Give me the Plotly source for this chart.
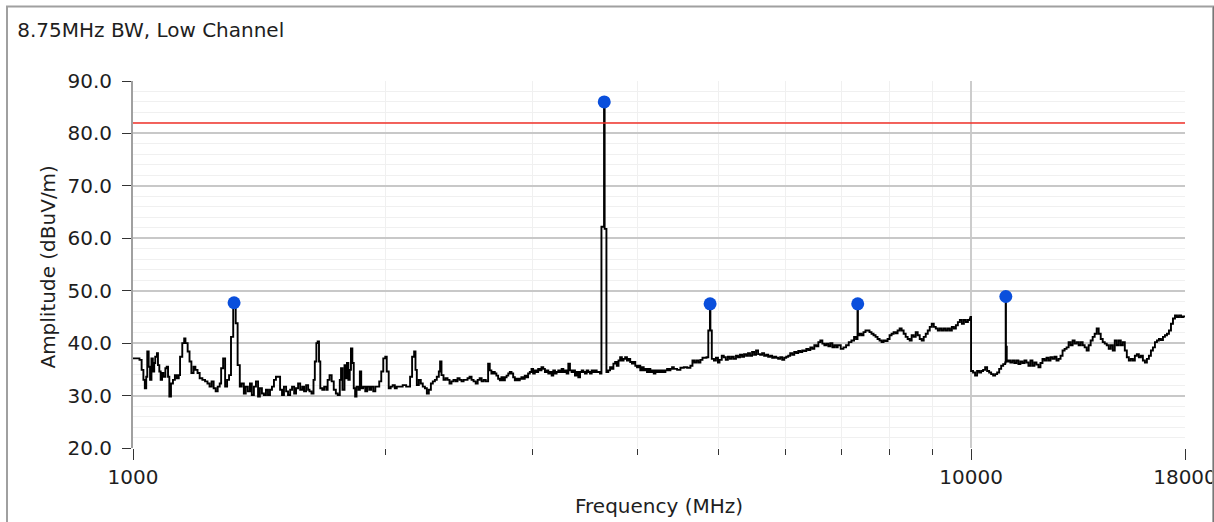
import math
import plotly.graph_objects as go

TITLE = "8.75MHz BW, Low Channel"
X_TITLE = "Frequency (MHz)"
Y_TITLE = "Amplitude (dBuV/m)"

FREQ_MHZ = [
    1000, 1015, 1018, 1024, 1029, 1033, 1037, 1040, 1044, 1048, 1052, 1056, 1060, 1063, 1068, 1071, 1075, 1079,
    1083, 1087, 1093, 1097, 1101, 1105, 1110, 1116, 1122, 1128, 1134, 1138, 1145, 1151, 1155, 1162, 1168, 1174,
    1181, 1187, 1194, 1201, 1210, 1219, 1227, 1234, 1241, 1248, 1255, 1262, 1269, 1274, 1281, 1288, 1295, 1302,
    1309, 1317, 1326, 1333, 1341,
    1348, 1356, 1363, 1371, 1379, 1386, 1394, 1402, 1410, 1417, 1425, 1433, 1441, 1449, 1457, 1465, 1473, 1481,
    1490, 1498, 1506, 1514, 1523, 1531, 1540, 1548, 1557, 1565, 1574, 1583, 1592, 1600, 1609, 1618,
    1624, 1633, 1642, 1648, 1655, 1661, 1667, 1673, 1682, 1691, 1701, 1707, 1716, 1726, 1736, 1746, 1755, 1765,
    1771, 1778, 1788, 1794, 1800, 1807, 1814, 1820, 1827, 1834, 1841, 1848, 1858, 1865, 1872, 1882, 1893, 1903,
    1914, 1924, 1935, 1946, 1956, 1967, 1978, 1989, 2000, 2008, 2019, 2030, 2041, 2053, 2064, 2079, 2098, 2118,
    2130, 2141, 2153, 2165, 2173, 2181, 2193, 2205, 2217, 2230, 2242, 2254, 2267, 2279, 2292, 2304, 2317, 2325,
    2334, 2347, 2360, 2373, 2386, 2399, 2412, 2426, 2439, 2453, 2466, 2480, 2494, 2507, 2521, 2535, 2549, 2564,
    2578, 2592, 2606, 2621, 2636,
    2653, 2665, 2677, 2690, 2702, 2714, 2727, 2740, 2752, 2765, 2778, 2791, 2804, 2816, 2829, 2842, 2855, 2868,
    2881, 2894, 2907, 2921, 2934, 2948, 2961, 2975, 2989, 3002, 3016, 3030, 3044, 3058, 3072, 3087, 3101, 3115,
    3130, 3144, 3159, 3173, 3188, 3202, 3217, 3232, 3247, 3262, 3276, 3292, 3307, 3322, 3337, 3353, 3368, 3384,
    3399, 3415, 3431, 3446, 3462, 3478, 3494, 3510, 3526, 3542, 3559, 3575, 3591, 3608,
    3622, 3648, 3654, 3672,
    3691, 3709, 3726, 3743, 3761, 3778, 3796, 3813, 3831, 3849, 3866, 3885, 3903, 3920, 3939, 3957, 3975, 3994,
    4012, 4030, 4049, 4068, 4086, 4105, 4125, 4143, 4163, 4182, 4201, 4221, 4240, 4259, 4279, 4299, 4318, 4338,
    4358, 4378, 4398,
    4419, 4459, 4500, 4542, 4583, 4625, 4651, 4676, 4702, 4728, 4754, 4781, 4807, 4834,
    4858, 4880, 4886, 4905,
    4934, 4961, 4989, 5010, 5041, 5069, 5097, 5126, 5154, 5182, 5211, 5242, 5271, 5300, 5330, 5359, 5389, 5418,
    5448, 5479, 5509, 5539, 5570, 5601, 5632, 5663, 5695, 5726, 5758, 5790, 5822, 5854, 5886, 5919, 5952, 5985,
    6018, 6051, 6084, 6118, 6152, 6186, 6220, 6254, 6289, 6324, 6359, 6394, 6430, 6465, 6501, 6537, 6573, 6609,
    6646, 6683, 6720, 6757, 6794, 6832, 6869, 6907, 6932,
    6990, 7042, 7093, 7146, 7199, 7251, 7291, 7320, 7328,
    7360, 7400, 7441, 7482, 7524, 7565, 7607, 7649, 7692, 7734, 7777, 7820, 7863, 7906, 7950, 7994, 8038, 8083,
    8128, 8172, 8218, 8263, 8309, 8355, 8401, 8448, 8494, 8541, 8589, 8636, 8684, 8732, 8780, 8829, 8878, 8927,
    8976, 9026, 9076, 9127, 9177, 9228, 9279, 9330, 9382, 9434, 9486, 9538, 9591, 9644, 9697, 9751, 9805, 9859,
    9914, 9968, 9985,
    10000, 10055, 10111, 10167, 10223, 10280, 10336, 10394, 10451, 10509, 10567, 10625, 10684, 10743, 10803,
    10862, 10923, 10983, 10998, 11006, 11030, 11080,
    11140, 11202, 11264, 11326, 11389, 11452, 11515, 11579, 11643, 11707, 11772, 11837, 11902, 11968, 12034,
    12101, 12168, 12235, 12303, 12371, 12439, 12508, 12577, 12646, 12717, 12787, 12858, 12930, 13001, 13073,
    13145, 13218, 13291, 13365, 13439, 13513, 13588, 13663, 13738, 13814, 13890, 13967, 14044, 14122, 14200,
    14279, 14358, 14437, 14517, 14597, 14678, 14760, 14841, 14923, 15006, 15089, 15172, 15256, 15341, 15426,
    15511, 15597, 15683, 15770, 15857, 15945, 16033, 16122, 16211, 16301, 16391, 16481, 16573, 16664, 16756,
    16849, 16942, 17035, 17130, 17224, 17320, 17415, 17512, 17608, 17706, 17804, 17902, 18000,
]

AMPLITUDE_DBUV = [
    37.1, 37.1, 36.8, 34.9, 33.0, 31.4, 33.6, 38.4, 35.5, 33.0, 37.1, 34.6, 36.2, 37.4, 38.1, 35.8, 34.6, 33.0,
    34.3, 33.6, 35.2, 35.5, 33.6, 29.8, 32.3, 33.0, 33.9, 33.3, 33.9, 37.4, 40.0, 40.9, 40.0, 38.4, 36.5, 34.3,
    35.5, 34.9, 34.3, 33.3, 33.0, 32.7, 32.3, 31.7, 32.7, 31.4, 30.8, 31.7, 32.3, 35.2, 37.1, 31.7, 33.0, 33.9,
    41.2, 47.7, 43.8, 35.8, 31.7,
    32.3, 30.4, 31.7, 30.8, 32.3, 30.1, 31.7, 32.7, 29.8, 31.4, 30.4, 30.1, 31.1, 30.1, 31.1, 31.7, 33.0, 33.6,
    33.6, 31.1, 30.1, 31.7, 30.8, 30.1, 31.1, 31.7, 30.4, 31.4, 32.3, 31.1, 31.7, 30.8, 32.0, 31.1,
    30.8, 30.4, 33.0, 36.5, 40.0, 40.3, 36.5, 31.4, 31.1, 31.7, 31.1, 33.0, 33.9, 32.7, 31.1, 30.4, 30.1, 33.0,
    35.2, 31.1, 35.8, 33.3, 36.2, 33.0, 34.9, 39.0, 36.2, 31.4, 29.8, 31.7, 31.1, 34.6, 31.4, 31.7, 30.8, 31.7,
    31.1, 31.7, 30.8, 31.7, 31.7, 32.7, 34.6, 37.1, 37.4, 34.6, 31.4, 31.7, 32.0, 31.4, 31.7, 31.7, 32.0, 31.7,
    31.7, 33.6, 37.4, 38.4, 34.9, 32.0, 33.0, 32.3, 31.7, 31.4, 30.4, 31.1, 32.3, 32.7, 33.0, 33.6, 34.6, 36.5,
    33.9, 33.0, 33.3, 33.0, 32.3, 32.7, 33.0, 32.7, 33.3, 33.0, 32.7, 33.0, 33.0, 33.3, 33.6, 33.0, 32.7, 32.3,
    33.0, 33.3, 32.7, 33.0, 32.7,
    36.1, 34.8, 34.2, 34.5, 34.2, 33.8, 33.2, 32.9, 33.5, 32.9, 33.5, 33.8, 34.2, 34.5, 34.2, 33.5, 32.9, 33.2,
    32.9, 33.2, 33.5, 33.2, 33.8, 33.5, 34.2, 34.5, 35.1, 34.2, 34.8, 34.5, 35.1, 34.8, 35.4, 35.1, 34.5, 34.8,
    34.2, 34.5, 33.8, 34.8, 34.2, 34.5, 34.8, 34.5, 35.1, 34.5, 34.8, 34.2, 36.1, 34.8, 34.5, 34.8, 33.8, 34.5,
    33.5, 34.5, 34.8, 34.5, 34.2, 34.8, 34.5, 34.2, 34.8, 34.5, 34.8, 34.5, 34.5, 34.2,
    62.2, 86.0, 61.8, 34.5,
    34.8, 35.4, 35.1, 36.1, 36.4, 35.7, 36.7, 37.3, 36.7, 37.0, 37.3, 36.7, 37.0, 36.4, 36.1, 36.4, 35.7, 35.4,
    35.7, 34.8, 35.4, 34.8, 35.1, 34.5, 35.1, 34.5, 34.8, 34.2, 34.8, 34.5, 34.8, 34.5, 34.8, 34.5, 34.8, 35.1,
    34.8, 35.1, 35.4,
    35.1, 34.9, 35.3, 35.4, 35.3, 35.7, 36.7, 36.3, 36.7, 36.3, 36.8, 37.2, 37.2, 37.3,
    42.4, 47.5, 42.4, 37.0,
    36.7, 37.2, 36.3, 36.8, 37.6, 37.3, 36.8, 37.4, 37.0, 37.4, 37.0, 37.6, 37.3, 37.8, 37.4, 37.9, 37.6, 38.1,
    37.6, 38.3, 37.8, 38.6, 37.9, 37.8, 38.1, 37.6, 37.8, 37.4, 37.6, 37.2, 37.4, 37.2, 37.0, 37.3, 36.8, 37.2,
    37.4, 37.6, 38.1, 37.8, 38.3, 38.1, 38.5, 38.3, 38.6, 38.5, 38.9, 38.7, 39.2, 38.9, 39.6, 39.4, 40.2, 40.5,
    39.9, 39.6, 39.9, 39.4, 40.0, 39.2, 39.6, 39.2, 39.6,
    38.9, 39.2, 39.6, 40.2, 40.5, 41.2, 40.8, 47.5, 41.5,
    41.8, 41.5, 42.1, 42.4, 42.4, 42.1, 41.8, 41.5, 41.2, 40.8, 40.5, 40.2, 40.5, 40.4, 40.8, 41.5, 41.8, 42.1,
    41.9, 42.4, 42.8, 42.4, 41.8, 41.2, 40.8, 40.5, 41.5, 41.2, 42.1, 41.5, 40.8, 40.5, 41.2, 41.8, 42.4, 43.1,
    43.7, 43.1, 42.8, 42.4, 42.8, 42.4, 42.8, 42.4, 42.8, 42.4, 43.1, 42.8, 43.4, 44.0, 44.4, 43.7, 44.4, 44.0,
    44.4, 44.7, 45.0,
    34.7, 34.4, 33.8, 34.7, 34.4, 34.7, 34.9, 35.4, 34.7, 34.4, 34.1, 33.8, 34.1, 34.4, 35.1,
    35.7, 36.0, 36.3, 48.9, 39.3, 36.5, 36.7,
    36.3, 36.7, 36.2, 36.7, 36.0, 36.5, 36.2, 36.7, 36.3, 35.7, 36.7, 35.7, 36.3, 35.9, 35.4,
    36.2, 37.0, 36.7, 37.2, 36.7, 37.3, 37.0, 37.4, 36.7, 37.0, 37.6, 38.6, 38.9, 39.2, 40.2,
    39.6, 40.5, 39.9, 40.2, 39.6, 40.2, 39.6, 39.2, 38.6, 39.6, 40.5, 41.2, 41.8, 42.8, 41.8,
    40.8, 40.2, 39.9, 39.6, 38.9, 39.6, 38.6, 40.5, 39.6, 40.5, 39.6, 40.2, 38.6, 37.3, 36.7,
    37.0, 36.7, 37.6, 37.9, 37.3, 37.6, 36.7, 36.3, 37.0, 37.6, 38.6, 39.2, 40.2, 40.5, 40.8,
    40.6, 41.2, 41.5, 41.8, 42.4, 43.7, 44.7, 45.3, 45.0, 45.3, 45.0, 45.1, 44.9,
]

# Peak markers
MARKER_FREQ = [1320, 3650, 4882, 7324, 11002]
MARKER_AMPL = [47.7, 86.0, 47.5, 47.5, 48.9]

# Limit line
LIMIT_DBUV = 82.0
X_MIN, X_MAX = 1000, 18000

X_TICKS = [1000, 10000, 18000]
X_MINOR_TICKS = [2000, 3000, 4000, 5000, 6000, 7000, 8000, 9000]
X_DARK_GRID = [10000]
Y_TICKS = [20, 30, 40, 50, 60, 70, 80, 90]
Y_GRID = [30, 40, 50, 60, 70, 80, 90]

FONT = "DejaVu Sans"
TXT = "#1e1e1e"
FS = 20

# the captured page is a bit wider than the final picture and gets squeezed
# horizontally; lay the figure out on that wider canvas
KX = 1229 / 1214
W, H = 1229, 522
L, T = round(131 * KX), 81
PW, PH = round(1182 * KX) - L, 367
R, B = W - L - PW, H - T - PH


def px_x(page_x):
    return (page_x * KX - L) / PW


def px_y(page_y):
    return (T + PH - page_y) / PH


xrange_log = [math.log10(X_MIN), math.log10(X_MAX)]

fig = go.Figure()
fig.add_trace(go.Scatter(
    x=FREQ_MHZ, y=AMPLITUDE_DBUV, mode="lines",
    line=dict(color="black", width=1.9, shape="hv"),
    showlegend=False, hoverinfo="skip"))
fig.add_trace(go.Scatter(
    x=[X_MIN, X_MAX], y=[LIMIT_DBUV, LIMIT_DBUV], mode="lines",
    xaxis="x2", yaxis="y2",
    line=dict(color="#f03028", width=1.5), showlegend=False, hoverinfo="skip"))
fig.add_trace(go.Scatter(
    x=MARKER_FREQ, y=MARKER_AMPL, mode="markers",
    marker=dict(color="#0a4fdc", size=13, line=dict(width=0)),
    showlegend=False))

fig.update_layout(
    width=W, height=H, autosize=False,
    margin=dict(l=L, r=R, t=T, b=B, pad=0),
    paper_bgcolor="white", plot_bgcolor="white",
    font=dict(family=FONT, size=FS, color=TXT),
    title=dict(text=TITLE, x=17 * KX / W, xanchor="left", xref="container",
               y=1 - 30 / H, yanchor="middle", yref="container",
               font=dict(family=FONT, size=FS, color=TXT)),
    xaxis=dict(
        type="log", range=xrange_log,
        tickmode="array", tickvals=X_TICKS, ticktext=[str(v) for v in X_TICKS],
        ticks="outside", ticklen=11, tickwidth=1.3, tickcolor="#333",
        ticklabelstandoff=0,
        showgrid=False, showline=False, zeroline=False,
        minor=dict(tickmode="array", tickvals=X_MINOR_TICKS, ticks="outside",
                   ticklen=6, tickwidth=1.3, tickcolor="#333",
                   showgrid=True, gridcolor="#f0f0f0", gridwidth=1),
    ),
    xaxis2=dict(
        type="log", range=xrange_log, overlaying="x",
        tickmode="array", tickvals=X_DARK_GRID, showticklabels=False, ticks="",
        showgrid=True, gridcolor="#cccccc", gridwidth=2, showline=False, zeroline=False,
    ),
    yaxis=dict(
        range=[20, 90], tickmode="array", tickvals=Y_TICKS,
        ticktext=[f"{v:.1f}" for v in Y_TICKS],
        ticks="outside", ticklen=9, tickwidth=1.3, tickcolor="#333",
        ticklabelstandoff=6,
        showline=True, linecolor="#a0a0a0", linewidth=2,
        showgrid=False, zeroline=False,
        minor=dict(dtick=2, tick0=0, showgrid=True, gridcolor="#f0f0f0", gridwidth=1, ticks=""),
    ),
    yaxis2=dict(
        range=[20, 90], overlaying="y", tickmode="array", tickvals=Y_GRID,
        showticklabels=False, ticks="", showgrid=True, gridcolor="#c8c8c8", gridwidth=2,
        showline=False, zeroline=False,
    ),
    annotations=[
        dict(text=Y_TITLE, textangle=-90, xref="paper", yref="paper",
             x=px_x(46), y=px_y(267), showarrow=False,
             xanchor="center", yanchor="middle", font=dict(family=FONT, size=FS, color=TXT)),
        dict(text=X_TITLE, xref="paper", yref="paper",
             x=px_x(657), y=px_y(506), showarrow=False,
             xanchor="center", yanchor="middle", font=dict(family=FONT, size=FS, color=TXT)),
    ],
    shapes=[
        dict(type="rect", xref="paper", yref="paper",
             x0=px_x(5.5), x1=px_x(1210.5), y0=px_y(540), y1=px_y(6.5),
             line=dict(color="#a0a0a0", width=2), fillcolor="rgba(0,0,0,0)", layer="above"),
        dict(type="line", xref="paper", yref="paper",
             x0=px_x(1212), x1=px_x(1212), y0=px_y(540), y1=px_y(6.5),
             line=dict(color="#333333", width=2), layer="above"),
    ],
)

fig.write_html(
    "out.html",
    config={"responsive": False, "displayModeBar": False},
    post_script="document.body.style.margin='0px';document.body.style.overflow='hidden';",
)
